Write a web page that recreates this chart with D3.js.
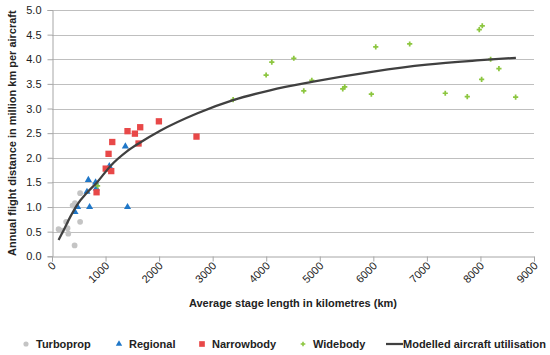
<!DOCTYPE html>
<html>
<head>
<meta charset="utf-8">
<script src="https://cdn.jsdelivr.net/npm/d3@7"></script>
<style>
  body { margin: 0; background: #fff; }
  svg { display: block; font-family: "Liberation Sans", Arial, sans-serif; }
</style>
</head>
<body>
<div id="chart"></div>
<script>
// Data (km, million km per aircraft)
const turbopropKm = [123, 186, 264, 290, 304, 385, 429, 422, 525, 525];
const turbopropUtil = [0.55, 0.52, 0.70, 0.57, 0.46, 1.03, 1.08, 0.22, 1.28, 0.70];

const regionalKm = [429, 478, 653, 679, 702, 814, 827, 1070, 1370, 1410];
const regionalUtil = [0.90, 1.00, 1.31, 1.55, 1.00, 1.50, 1.38, 1.83, 2.23, 1.00];

const narrowKm = [832, 1003, 1106, 1056, 1125, 1410, 1548, 1616, 1647, 1996, 2698];
const narrowUtil = [1.30, 1.78, 1.73, 2.08, 2.32, 2.54, 2.49, 2.29, 2.62, 2.74, 2.43];

const wideKm = [851, 3382, 3998, 4104, 4515, 4701, 4851, 5429, 5466, 5963, 6045, 6679, 7343, 7754, 7978, 8034, 8022, 8190, 8345, 8657];
const wideUtil = [1.43, 3.18, 3.68, 3.94, 4.02, 3.36, 3.57, 3.40, 3.44, 3.29, 4.25, 4.31, 3.31, 3.24, 4.60, 4.68, 3.59, 4.00, 3.81, 3.23];

const modelKm = [123, 217, 341, 466, 653, 840, 1088, 1399, 1647, 2020, 2705, 3382, 4073, 4851, 6000, 7000, 8000, 8662];
const modelUtil = [0.33, 0.53, 0.80, 1.04, 1.29, 1.50, 1.83, 2.13, 2.31, 2.55, 2.90, 3.17, 3.37, 3.54, 3.75, 3.89, 3.98, 4.03];

const xTicks = [0, 1000, 2000, 3000, 4000, 5000, 6000, 7000, 8000, 9000];
const yTicks = [0, 0.5, 1.0, 1.5, 2.0, 2.5, 3.0, 3.5, 4.0, 4.5, 5.0];

const width = 550, height = 355;
const margin = { top: 10, right: 16, bottom: 99, left: 52 };

const zip = (xs, ys) => xs.map((x, i) => ({ x: x, y: ys[i] }));

const svg = d3.select("#chart")
    .append("svg")
    .attr("width", width)
    .attr("height", height);

const xScale = d3.scaleLinear()
    .domain([0, 9000])
    .range([margin.left, width - margin.right]);

const yScale = d3.scaleLinear()
    .domain([0, 5])
    .range([height - margin.bottom + 0.3, margin.top]);

// Gridlines
svg.append("g")
    .selectAll("line")
    .data(yTicks.slice(1))
    .join("line")
    .attr("x1", margin.left)
    .attr("x2", width - margin.right)
    .attr("y1", d => Math.round(yScale(d)) + 0.5)
    .attr("y2", d => Math.round(yScale(d)) + 0.5)
    .attr("stroke", "#bfbfbf")
    .attr("stroke-width", 1);

// Y axis
const yAxis = svg.append("g")
    .attr("transform", `translate(${margin.left + 0.5},0)`)
    .call(d3.axisLeft(yScale).tickValues(yTicks).tickFormat(d3.format(".1f")).tickSize(5).tickPadding(6));
yAxis.select(".domain").attr("stroke", "#a6a6a6");
yAxis.selectAll(".tick line").attr("stroke", "#a6a6a6");
yAxis.selectAll("text").attr("font-size", "11px").attr("fill", "#222").attr("font-family", "Liberation Sans, Arial, sans-serif");

// X axis
const xAxis = svg.append("g")
    .attr("transform", `translate(0,${Math.round(yScale(0)) + 0.5})`)
    .call(d3.axisBottom(xScale).tickValues(xTicks).tickFormat(d3.format("d")).tickSize(5));
xAxis.select(".domain").attr("stroke", "#a6a6a6");
xAxis.selectAll(".tick line").attr("stroke", "#a6a6a6");
xAxis.selectAll("text")
    .attr("font-size", "11px")
    .attr("fill", "#222")
    .attr("font-family", "Liberation Sans, Arial, sans-serif")
    .attr("text-anchor", "end")
    .attr("dy", null)
    .attr("y", 0)
    .attr("transform", "translate(4,10) rotate(-45)");

// Axis titles
svg.append("text")
    .attr("x", (margin.left + width - margin.right) / 2)
    .attr("y", 307)
    .attr("text-anchor", "middle")
    .attr("font-size", "11px")
    .attr("font-weight", "bold")
    .attr("fill", "#222")
    .text("Average stage length in kilometres (km)");

svg.append("text")
    .attr("transform", `translate(16,${(margin.top + yScale(0)) / 2}) rotate(-90)`)
    .attr("text-anchor", "middle")
    .attr("font-size", "11px")
    .attr("font-weight", "bold")
    .attr("fill", "#222")
    .text("Annual flight distance in million km per aircraft");

// Series markers
const series = [
    { name: "Turboprop", data: zip(turbopropKm, turbopropUtil), symbol: d3.symbolCircle, size: 26, color: "#c4c4c4" },
    { name: "Regional", data: zip(regionalKm, regionalUtil), symbol: d3.symbolTriangle, size: 22, color: "#1f77c8" },
    { name: "Narrowbody", data: zip(narrowKm, narrowUtil), symbol: d3.symbolSquare, size: 40, color: "#e84848" },
    { name: "Widebody", data: zip(wideKm, wideUtil), symbol: d3.symbolCross, size: 15, color: "#8cc63f" }
];

series.forEach(s => {
    svg.append("g")
        .selectAll("path")
        .data(s.data)
        .join("path")
        .attr("transform", d => `translate(${xScale(d.x)},${yScale(d.y)})`)
        .attr("d", d3.symbol().type(s.symbol).size(s.size))
        .attr("fill", s.color);
});

// Modelled curve
const line = d3.line()
    .x(d => xScale(d.x))
    .y(d => yScale(d.y))
    .curve(d3.curveMonotoneX);

svg.append("path")
    .datum(zip(modelKm, modelUtil))
    .attr("d", line)
    .attr("fill", "none")
    .attr("stroke", "#404040")
    .attr("stroke-width", 2.25);

// Legend
const legendY = 344;
const legend = svg.append("g").attr("font-size", "11px").attr("font-weight", "bold").attr("fill", "#222");
const legendPos = [26, 119, 202, 303];
series.forEach((s, i) => {
    legend.append("path")
        .attr("transform", `translate(${legendPos[i]},${legendY})`)
        .attr("d", d3.symbol().type(s.symbol).size(s.size * 0.8))
        .attr("fill", s.color);
    legend.append("text")
        .attr("x", legendPos[i] + 10)
        .attr("y", legendY + 4)
        .text(s.name);
});
legend.append("line")
    .attr("x1", 386).attr("x2", 403)
    .attr("y1", legendY).attr("y2", legendY)
    .attr("stroke", "#404040")
    .attr("stroke-width", 2.25);
legend.append("text")
    .attr("x", 403)
    .attr("y", legendY + 4)
    .text("Modelled aircraft utilisation");
</script>
</body>
</html>
